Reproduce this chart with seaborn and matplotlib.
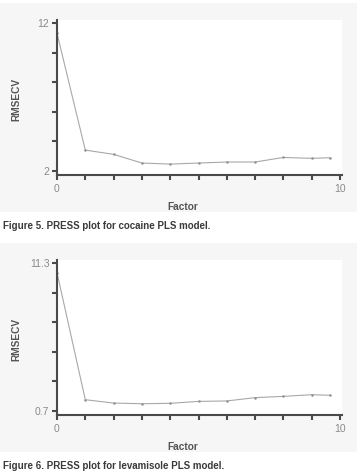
# PRESS plots (RMSECV vs number of factors) for cocaine and levamisole PLS models
import matplotlib
matplotlib.use("Agg")
import matplotlib.pyplot as plt
from matplotlib.patches import Rectangle
import seaborn as sns
import pandas as pd

# Data
factors = [0, 1, 2, 3, 4, 5, 6, 7, 8, 9, 9.65]
cocaine_rmsecv = [11.32, 3.40, 3.11, 2.52, 2.45, 2.52, 2.59, 2.59, 2.90, 2.84, 2.88]
levamisole_rmsecv = [10.63, 1.49, 1.25, 1.20, 1.23, 1.37, 1.40, 1.64, 1.73, 1.85, 1.81]

cocaine_yticks = [2, 4, 6, 8, 10, 12]
cocaine_ylabels = ["2", "", "", "", "", "12"]
levamisole_yticks = [0.7, 2.82, 4.94, 7.06, 9.18, 11.3]
levamisole_ylabels = ["0.7", "", "", "", "", "11.3"]
xticks = list(range(11))
xlabels = ["0"] + [""] * 9 + ["10"]

captions = ["Figure 5. PRESS plot for cocaine PLS model.",
            "Figure 6. PRESS plot for levamisole PLS model."]

sns.set_style("white")
plt.rcParams["font.family"] = ["Liberation Sans", "DejaVu Sans"]

W, H = 360, 475
fig = plt.figure(figsize=(W / 100, H / 100), dpi=100)
fig.patch.set_facecolor("white")


def px_box(x0, y0, x1, y1):
    # convert pixel box (top-left origin) to figure fraction
    return [x0 / W, 1 - y1 / H, (x1 - x0) / W, (y1 - y0) / H]


panels = [
    (0, cocaine_rmsecv, cocaine_yticks, cocaine_ylabels, (1.71, 12.22)),
    (240, levamisole_rmsecv, levamisole_yticks, levamisole_ylabels, (0.39, 11.54)),
]

for i, (off, values, yticks, ylabels, ylim) in enumerate(panels):
    # light grey panel behind each chart
    bx = px_box(0, 3 + off, 357, 212 + off)
    fig.patches.append(Rectangle((bx[0], bx[1]), bx[2], bx[3], transform=fig.transFigure,
                                 facecolor="#f6f6f6", edgecolor="none", zorder=-5))

    ax = fig.add_axes(px_box(57, 20 + off, 342, 175 + off))
    ax.set_zorder(2)
    ax.set_facecolor("white")
    df = pd.DataFrame({"Factor": factors, "RMSECV": values})
    sns.lineplot(data=df, x="Factor", y="RMSECV", ax=ax, color="#a8a8a8", linewidth=0.8,
                 marker="o", markersize=1.8, markeredgewidth=0, markerfacecolor="#909090")

    ax.set_xlim(0, 10.07)
    ax.set_ylim(*ylim)
    ax.set_xticks(xticks)
    ax.set_xticklabels(xlabels)
    ax.set_yticks(yticks)
    ax.set_yticklabels(ylabels)

    for side in ["top", "right"]:
        ax.spines[side].set_visible(False)
    for side in ["left", "bottom"]:
        ax.spines[side].set_color("#4a4a4a")
        ax.spines[side].set_linewidth(1.5)
    ax.tick_params(axis="both", bottom=True, left=True, direction="out", length=3.5,
                   width=1.5, color="#4a4a4a", labelsize=7.5, labelcolor="#8a8a8a", pad=2)
    ax.tick_params(axis="x", pad=3)

    ax.set_xlabel("Factor", fontsize=7.3, fontweight="bold", color="#555555")
    ax.set_ylabel("RMSECV", fontsize=7.3, fontweight="bold", color="#555555")
    ax.xaxis.set_label_coords(0.44, -0.175)
    ax.yaxis.set_label_coords(-0.125, 0.49)

    fig.text(3 / W, 1 - (226 + off) / H, captions[i], fontsize=7, fontweight="bold",
             color="#3a3a3a", ha="left", va="center", zorder=3)

fig.savefig("out.png", dpi=100)
